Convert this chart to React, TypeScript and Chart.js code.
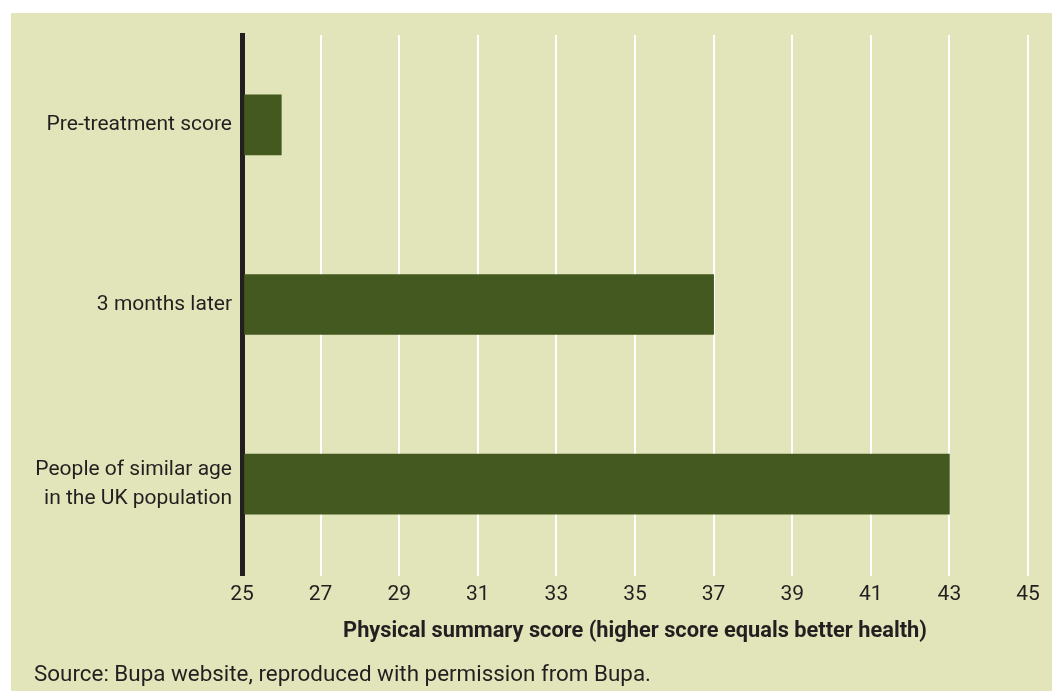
import React, { useEffect, useRef } from "react";
import { Chart, registerables } from "chart.js";

Chart.register(...registerables);

const categories: (string | string[])[] = [
  "Pre-treatment score",
  "3 months later",
  ["People of similar age", "in the UK population"],
];
const scores: number[] = [26, 37, 43];
const axisMin = 25;
const axisMax = 45;
const axisStep = 2;
const axisTitle = "Physical summary score (higher score equals better health)";
const sourceText = "Source: Bupa website, reproduced with permission from Bupa.";

const FONT = "Roboto, 'DejaVu Sans', sans-serif";
const PANEL_BG = "#e2e4b9";
const BAR = "#44591f";
const INK = "#231f20";

export default function App() {
  const ref = useRef<HTMLCanvasElement | null>(null);

  useEffect(() => {
    if (!ref.current) return;
    const chart = new Chart(ref.current, {
      type: "bar",
      data: {
        labels: categories,
        datasets: [
          {
            data: scores,
            backgroundColor: BAR,
            borderWidth: 0,
            barThickness: 60,
            base: axisMin,
          },
        ],
      },
      options: {
        indexAxis: "y",
        animation: false,
        responsive: false,
        maintainAspectRatio: false,
        layout: { padding: { top: 22, right: 24, left: 0, bottom: 46 } },
        plugins: {
          legend: { display: false },
          tooltip: { enabled: false },
        },
        scales: {
          x: {
            min: axisMin,
            max: axisMax,
            afterFit: (s: any) => {
              s.height = 71;
              s.paddingLeft = 0;
              s.paddingRight = 0;
            },
            ticks: {
              stepSize: axisStep,
              color: INK,
              padding: 6,
              font: { family: FONT, size: 21 },
            },
            grid: {
              color: (ctx: any) => (ctx.tick && ctx.tick.value === axisMin ? INK : "#ffffff"),
              lineWidth: (ctx: any) => (ctx.tick && ctx.tick.value === axisMin ? 5 : 2),
              drawTicks: true,
              tickLength: 2,
            },
            border: { display: false },
            title: {
              display: true,
              text: axisTitle,
              color: INK,
              font: { family: FONT, size: 21.8, weight: "bold" },
              padding: 0,
            },
          },
          y: {
            z: 1,
            afterFit: (s: any) => {
              s.width = 231;
              s.paddingTop = 0;
              s.paddingBottom = 0;
            },
            ticks: {
              color: INK,
              padding: 10,
              font: { family: FONT, size: 21, lineHeight: 1.35 },
            },
            grid: { display: false, drawTicks: false },
            border: { display: true, color: INK, width: 5 },
          },
        },
      },
    });
    return () => chart.destroy();
  }, []);

  return (
    <div
      style={{
        position: "absolute",
        left: 11,
        top: 13,
        width: 1041,
        height: 678,
        background: PANEL_BG,
        overflow: "hidden",
      }}
    >
      <canvas ref={ref} width={1041} height={678} style={{ display: "block" }} />
      <div
        style={{
          position: "absolute",
          left: 23,
          top: 647,
          fontFamily: FONT,
          fontSize: 22.4,
          color: INK,
          lineHeight: "26px",
          whiteSpace: "nowrap",
        }}
      >
        {sourceText}
      </div>
    </div>
  );
}
